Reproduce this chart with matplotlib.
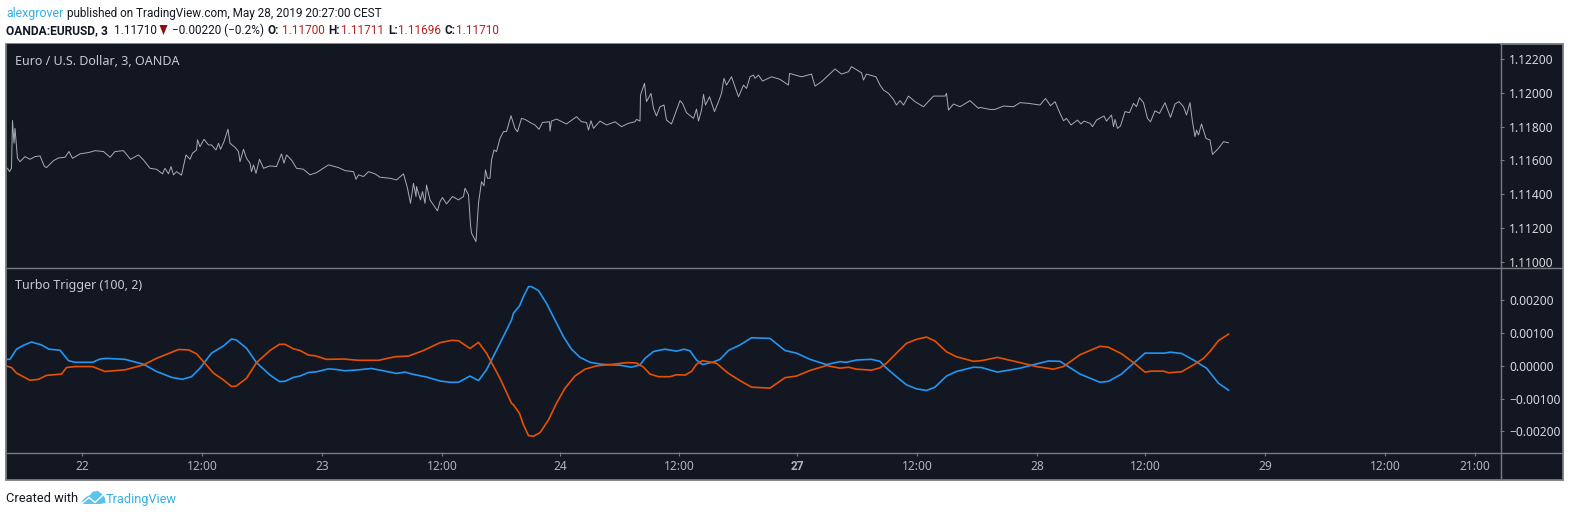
import numpy as np
import matplotlib
matplotlib.use("Agg")
import matplotlib.pyplot as plt
from matplotlib.patches import Polygon, Rectangle

# ---- data (x = 3-minute bar number) ----
price_bars = [1,5,9,11,14,16,21,26,36,46,56,66,75,79,93,103,116,124,131,146,163,176,193,206,216,233,247,263,273,286,299,311,316,323,328,333,339,349,358,366,371,379,381,386,394,403,409,418,423,427,434,442,446,456,463,466,473,479,486,489,493,498,505,513,526,539,549,554,559,569,579,593,606,619,643,663,676,693,698,703,713,723,736,746,766,779,793,801,807,813,818,819,827,831,836,839,846,861,866,871,879,891,903,913,916,923,927,929,938,943,949,954,957,961,966,969,974,979,986,993,999,1008,1016,1021,
 1029,1036,1049,1056,1064,1071,1085,1086,1089,1099,1119,1139,1149,1159,1163,1168,1173,1186,1199,1216,1229,1243,1256,1259,1266,1267,1275,1279,1288,1293,1299,1306,1314,1319,1329,1346,1351,1359,1373,1379,1383,1389,1393,1397,1405,1415,1423,1429,1434,1439,1449,1463,1473,1479,1486,1493,1496,1503,1511,1529,1546,1563,1565,1589,1609,1616,1629,1656,1669,1683,1689,1709,1713,1719,1738,1746,1753,1763,1773,1779,1786,1793,1803,1816,1833,1853,1876,1879,1883,1893,1906,1926,1943,
 1946,1966,1976,1993,2013,2026,2043,2066,2077,2087,2096,2106,2113,2119,2128,2141,2148,2154,2166,2171,2179,2194,2199,2209,2213,2216,2221,2227,2236,2245,2253,2259,2265,2273,2281,2287,2296,2305,2316,2327,2336,2344,2353,2359,2366,2371,2376,2379,2383,2389,2398,2406,2411,2423,2433,2443]
price_values = [1.11554,1.11534,1.11554,1.11836,1.11702,1.11790,1.11613,1.11593,1.11623,1.11607,1.11623,1.11627,1.11564,1.11558,1.11599,1.11615,1.11619,1.11653,1.11613,1.11639,1.11647,1.11658,1.11653,1.11619,1.11653,1.11658,1.11607,1.11633,1.11603,1.11554,1.11548,1.11521,1.11554,1.11521,1.11564,1.11515,1.11534,1.11513,1.11633,1.11607,1.11643,1.11662,1.11722,1.11682,1.11725,1.11692,1.11692,1.11662,1.11702,1.11666,1.11712,1.11785,1.11702,1.11678,1.11653,1.11593,1.11666,1.11613,1.11584,1.11534,1.11574,1.11524,1.11607,1.11554,1.11568,1.11564,1.11639,1.11584,1.11633,1.11603,1.11554,1.11548,1.11515,1.11528,1.11574,1.11558,1.11540,1.11534,1.11489,1.11515,1.11505,1.11534,1.11521,1.11501,1.11495,1.11485,1.11521,1.11436,1.11347,1.11465,1.11387,1.11446,1.11367,1.11416,1.11347,1.11455,1.11367,1.11302,1.11357,1.11381,1.11343,1.11387,1.11367,1.11387,1.11436,1.11396,1.11219,1.11170,1.11120,1.11347,1.11475,1.11450,1.11544,1.11495,1.11495,1.11603,1.11662,1.11653,1.11731,1.11771,1.11771,1.11865,1.11790,1.11770,
 1.11849,1.11843,1.11820,1.11810,1.11784,1.11825,1.11829,1.11774,1.11833,1.11845,1.11816,1.11859,1.11829,1.11825,1.11780,1.11835,1.11790,1.11833,1.11810,1.11829,1.11800,1.11820,1.11829,1.11843,1.11833,1.11987,1.12056,1.11948,1.11997,1.11908,1.11863,1.11918,1.11928,1.11839,1.11816,1.11954,1.11938,1.11883,1.11849,1.11904,1.11833,1.11898,1.11991,1.11928,1.11977,1.11889,1.11948,1.11997,1.12086,1.12046,1.12095,1.11977,1.12046,1.12026,1.12095,1.12105,1.12086,1.12105,1.12070,1.12095,1.12080,1.12046,1.12115,1.12095,1.12111,1.12040,1.12066,1.12141,1.12111,1.12125,1.12155,1.12119,1.12076,1.12111,1.12095,1.12046,1.12017,1.11997,1.11961,1.11928,1.11954,1.11928,1.11981,1.11948,1.11918,1.11981,1.11981,1.11997,1.11898,1.11934,1.11918,1.11954,1.11908,
 1.11914,1.11902,1.11902,1.11922,1.11918,1.11942,1.11938,1.11928,1.11967,1.11924,1.11948,1.11879,1.11835,1.11849,1.11810,1.11839,1.11816,1.11833,1.11820,1.11800,1.11839,1.11863,1.11833,1.11869,1.11800,1.11843,1.11790,1.11804,1.11889,1.11883,1.11938,1.11918,1.11971,1.11942,1.11849,1.11829,1.11894,1.11879,1.11942,1.11855,1.11934,1.11948,1.11918,1.11869,1.11942,1.11829,1.11741,1.11780,1.11751,1.11816,1.11731,1.11721,1.11636,1.11672,1.11711,1.11705]

blue_bars = [0,6,19,33,49,69,84,106,123,136,171,186,199,236,273,299,329,351,369,386,409,433,449,459,479,499,526,545,556,573,586,603,619,643,659,676,703,729,753,779,796,813,839,866,886,903,926,943,959,986,1009,1013,1025,1033,1043,1049,1063,1079,1096,1113,1129,1146,1166,1189,1226,1249,1266,1276,1293,1316,1339,1354,1366,1379,1391,1413,1426,1443,1466,1489,1526,1556,1579,1606,1639,1666,1679,1699,1729,1746,1759,1779,1799,1819,1839,1856,1879,1899,1933,1949,1981,2026,2059,2083,2106,2146,2186,2203,2229,2253,2276,2316,2326,2349,2373,2399,2423,2443]
blue_values = [20,20,51,63,73,64,51,48,16,11,11,21,23,20,5,-17,-35,-41,-33,-7,39,61,82,79,54,10,-28,-48,-47,-35,-31,-20,-18,-9,-11,-15,-12,-8,-15,-23,-19,-26,-34,-46,-50,-50,-31,-45,-12,69,140,161,183,212,242,242,230,191,140,89,51,26,11,5,2,-4,3,23,44,51,45,51,46,18,4,12,20,47,64,86,84,47,39,20,4,13,11,18,20,14,-7,-33,-58,-70,-75,-65,-31,-17,-4,-5,-19,-7,6,15,14,-25,-50,-47,-25,8,39,39,42,38,18,-7,-53,-74]

orange_bars = [0,9,19,46,63,79,109,119,136,171,196,236,273,299,343,363,379,413,433,449,458,479,499,526,545,556,573,586,603,616,639,673,703,743,776,803,833,866,889,903,926,943,959,986,1009,1013,1025,1033,1043,1053,1066,1083,1099,1116,1136,1156,1179,1213,1239,1259,1273,1286,1303,1326,1339,1356,1369,1379,1391,1419,1443,1466,1489,1526,1556,1579,1606,1639,1666,1683,1699,1729,1746,1759,1779,1799,1819,1839,1856,1879,1899,1933,1949,1981,2026,2059,2093,2113,2146,2186,2203,2229,2253,2276,2289,2313,2323,2349,2373,2393,2406,2423,2443]
orange_values = [-1,-5,-22,-44,-41,-29,-25,-5,-2,-2,-17,-12,3,23,50,49,37,-22,-43,-63,-62,-38,10,47,66,66,52,47,33,31,20,21,17,17,28,30,47,71,78,77,53,72,39,-38,-114,-119,-145,-180,-213,-215,-204,-165,-114,-68,-31,-10,0,5,10,9,-4,-25,-33,-33,-27,-28,-17,5,16,8,-23,-45,-65,-68,-36,-31,-14,1,-7,-4,-10,-13,-6,8,39,69,81,88,76,43,28,14,16,26,10,-2,-10,-2,34,60,57,37,10,-19,-16,-16,-21,-18,3,23,44,77,97]
turbo_scale = 1e-5

tick_bars = [150,390,630,870,1106,1344,1580,1820,2060,2276,2516,2756,2936]
tick_labels = ['22','12:00','23','12:00','24','12:00','27','12:00','28','12:00','29','12:00','21:00']
price_ticks = [1.11000,1.11200,1.11400,1.11600,1.11800,1.12000,1.12200]
turbo_ticks = [-0.002,-0.001,0.0,0.001,0.002]

W, H = 1569, 516
BG = '#131722'; EDGE = '#787b80'; TXT = '#b2b5be'; FONT = 'Noto Sans'; HEAD = 'Roboto'
plt.rcParams['font.family'] = [FONT, 'DejaVu Sans']

fig = plt.figure(figsize=(W/100, H/100), dpi=100, facecolor='white')
fx = lambda x: x/W
fy = lambda y: 1-y/H

# outer background incl. scale & time areas (behind the axes)
fig.patches.append(Rectangle((fx(6.5), fy(479.5)), fx(1556), 436/H, transform=fig.transFigure,
                             facecolor=BG, edgecolor=EDGE, lw=1.3, zorder=-5))
fig.patches[-1].set_figure(fig)

def pane(x0, y0, x1, y1):
    ax = fig.add_axes([fx(x0), fy(y1), fx(x1-x0), (y1-y0)/H])
    ax.set_facecolor(BG)
    for s in ax.spines.values():
        s.set_visible(False)
    return ax

ax1 = pane(7, 44, 1500, 267)
ax2 = pane(7, 268, 1500, 452)
xlim = (0, 2986)
ax1.plot(price_bars, price_values, color='#a9acb4', lw=0.7)
ax1.set_xlim(*xlim); ax1.set_ylim(1.10970, 1.12289)
ax2.plot(blue_bars, np.array(blue_values)*turbo_scale, color='#2196f3', lw=1.2)
ax2.plot(orange_bars, np.array(orange_values)*turbo_scale, color='#e65100', lw=1.2)
ax2.set_xlim(*xlim); ax2.set_ylim(-0.00263, 0.00299)

ax1.set_xticks([])
ax1.yaxis.tick_right()
ax1.set_yticks(price_ticks, [f'{v:.5f}' for v in price_ticks])
ax2.yaxis.tick_right()
ax2.set_yticks(turbo_ticks, [f'{v:.5f}'.replace('-', '\u2212') for v in turbo_ticks])
ax2.set_xticks(tick_bars, tick_labels)
for lab, t_ in zip(ax2.get_xticklabels(), tick_labels):
    if t_ == '27':
        lab.set_fontweight('bold')
        lab.set_family(HEAD)
for ax in (ax1, ax2):
    ax.tick_params(axis='y', length=3, width=0.8, color=EDGE, labelcolor='#d6d8de', labelsize=8.6, pad=3.5, right=True)
ax2.tick_params(axis='x', length=3, width=0.8, color=EDGE, labelcolor=TXT, labelsize=8.6, pad=3)

# pane and scale separators
for (x0, y0, x1, y1) in [(7, 267.5, 1562, 267.5), (7, 452.5, 1562, 452.5), (1500.5, 44, 1500.5, 479)]:
    fig.add_artist(plt.Line2D([fx(x0), fx(x1)], [fy(y0), fy(y1)], color=EDGE, lw=1.0))

fig.text(fx(15), fy(61.5), 'Euro / U.S. Dollar, 3, OANDA', color='#c8cad0', fontsize=9, va='center')
fig.text(fx(15), fy(285.5), 'Turbo Trigger (100, 2)', color='#c8cad0', fontsize=9, va='center')

# header
def t(x, y, s, c='#131722', w='normal', fs=8.45):
    fig.text(fx(x), fy(y), s, color=c, fontweight=w, fontsize=fs, va='center', family=[HEAD, 'DejaVu Sans'])
t(6, 13, 'alexgrover', '#35b0e4', fs=8.9)
t(67, 13, 'published on TradingView.com, May 28, 2019 20:27:00 CEST')
t(6, 30.5, 'OANDA:EURUSD, 3', w='bold', fs=8.65)
t(114, 30.5, '1.11710')
fig.add_artist(Polygon([[fx(159.5), fy(25)], [fx(167.5), fy(25)], [fx(163.5), fy(35)]],
                       transform=fig.transFigure, facecolor='#8b0f0f', edgecolor='none'))
t(172, 30.5, '\u22120.00220 (\u22120.2%)')
red = '#b22222'
for x, lab in [(268, 'O:'), (328, 'H:'), (388, 'L:'), (445, 'C:')]:
    t(x, 30.5, lab, w='bold')
for x, val in [(282, '1.11700'), (341, '1.11711'), (398, '1.11696'), (456, '1.11710')]:
    t(x, 30.5, val, red)

# footer
t(6, 499, 'Created with', fs=9.3)
t(106, 499, 'TradingView', '#35b0e4', fs=9.2)
cloud = [(82,501),(86,497),(90,495),(93,491.5),(98,491),(102,494),(105,498),(105.5,503),(100,504),(88,504),(83,504)]
fig.add_artist(Polygon([[fx(a), fy(b)] for a, b in cloud], transform=fig.transFigure,
                       facecolor='#5cc3ec', edgecolor='none'))
zig = [(82,503.5),(89,497.5),(95,502.5),(103,495)]
fig.add_artist(plt.Line2D([fx(a) for a, b in zig], [fy(b) for a, b in zig], color='white', lw=1.0))

fig.savefig('out.png', dpi=100, facecolor='white')
